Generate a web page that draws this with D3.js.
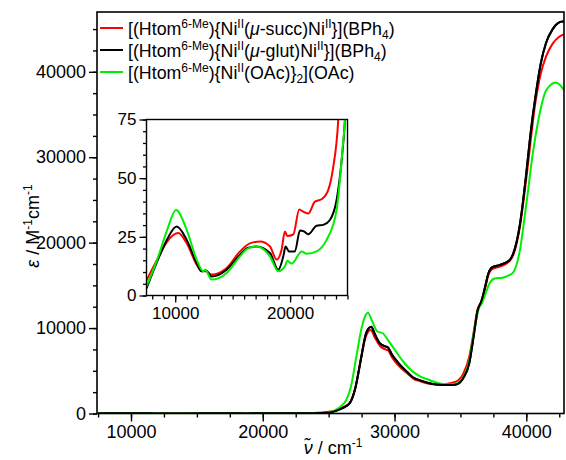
<!DOCTYPE html>
<html>
<head>
<meta charset="utf-8">
<script src="https://cdn.jsdelivr.net/npm/d3@7"></script>
<style>
  html, body { margin: 0; padding: 0; background: #fff; }
  svg { display: block; font-family: "Liberation Sans", Arial, sans-serif; }
</style>
</head>
<body>
<svg id="chart" width="566" height="460"></svg>
<script>
// Molar absorptivity ε (M^-1 cm^-1) versus wavenumber (cm^-1), [wavenumber, ε]
const succData = [
  [7500, 6.4], [8500, 16], [9300, 23], [10270, 26.6], [11000, 22.3], [11870, 13.1],
  [12300, 10.3], [12680, 10.3], [13170, 8.9], [14480, 11.7], [15640, 18.8], [16500, 22.2],
  [17380, 23], [18250, 20.9], [18830, 15.3], [19260, 19.5], [19550, 27.3], [19750, 25.4],
  [20280, 26], [20800, 36.7], [21150, 35.7], [21580, 34.9], [22160, 40], [22740, 41],
  [23320, 44.9], [23760, 54.8], [24190, 74.6], [24500, 110], [25000, 200], [25500, 330],
  [26000, 650], [26600, 1250], [27000, 2900], [27480, 6600], [27800, 8900], [28000, 9600],
  [28200, 9780], [28500, 8900], [28900, 7900], [29300, 7500], [29500, 7400], [29800, 6600],
  [30300, 5600], [31000, 4650], [31390, 4120], [32000, 3750], [32650, 3480], [33200, 3400],
  [33690, 3430], [34200, 3550], [34660, 3720], [35200, 4600], [35670, 6650], [36000, 9500],
  [36300, 12200], [36600, 13100], [36900, 14800], [37100, 16100], [37400, 16900], [38000, 17200],
  [38700, 17800], [39000, 18500], [39500, 21700], [40000, 27500], [40700, 36500], [41100, 39800],
  [41500, 41800], [42000, 43300], [42500, 44100], [42860, 44400]
];

const glutData = [
  [7500, 3], [8500, 15.3], [9300, 24], [10130, 29.4], [11000, 23.7], [11870, 13.8],
  [12300, 10.3], [12680, 10.7], [13170, 8.1], [14480, 11], [15640, 17.4], [16300, 20.3],
  [17090, 20.9], [18250, 18.1], [18970, 11], [19410, 16.7], [19610, 20.9], [19900, 18.8],
  [20420, 18.8], [20860, 27.7], [21210, 27.3], [21580, 26.1], [22310, 29.7], [22890, 30.1],
  [23470, 32.2], [24050, 40.7], [24490, 57.6], [24780, 75], [25000, 100], [25500, 280],
  [26000, 600], [26590, 1190], [27000, 2800], [27480, 6650], [27800, 9200], [28000, 9900],
  [28235, 10160], [28500, 9300], [28900, 8200], [29300, 7850], [29490, 7750], [29800, 6900],
  [30300, 5900], [31000, 4800], [31390, 4240], [32000, 3850], [32650, 3540], [33200, 3400],
  [33690, 3340], [34200, 3330], [34660, 3400], [35200, 4100], [35670, 5880], [36000, 9000],
  [36300, 12000], [36600, 13200], [36900, 15000], [37100, 16300], [37400, 17100], [38000, 17400],
  [38700, 17900], [39000, 18700], [39500, 22000], [39970, 27730], [40300, 32500], [40730, 37490],
  [41100, 41000], [41490, 43350], [42000, 45000], [42400, 45700], [42750, 45880], [42860, 45850]
];

const oacData = [
  [7500, 3.9], [8530, 16.7], [9300, 28], [10070, 36.4], [11000, 28], [11870, 15.3],
  [12440, 10.3], [12600, 11], [13170, 6.8], [14480, 9.6], [15640, 16.7], [16300, 20],
  [17090, 20.9], [18250, 16.7], [18970, 10.3], [19550, 12.4], [19750, 14.8], [20140, 13.6],
  [21010, 18.8], [21450, 17.8], [22310, 18.8], [23180, 23.7], [24050, 36.4], [24630, 66],
  [24780, 75], [25000, 150], [25500, 400], [26000, 950], [26340, 1580], [26700, 3200],
  [27100, 6650], [27500, 10000], [27800, 11500], [27980, 11800], [28300, 10800], [28700, 9600],
  [29110, 9390], [29500, 8600], [30000, 7500], [30700, 6000], [31390, 4900], [32000, 4300],
  [32650, 3920], [33200, 3600], [33690, 3450], [34200, 3400], [34660, 3500], [35200, 4200],
  [35670, 6200], [36000, 9300], [36200, 11000], [36400, 12300], [36600, 12800], [36900, 14000],
  [37200, 15200], [37600, 15800], [38200, 15900], [38700, 16200], [39000, 16500], [39500, 19000],
  [40000, 24500], [40500, 30500], [41000, 35000], [41500, 37800], [42240, 38740], [42860, 37880]
];

const seriesColors = ["#ff0000", "#000000", "#00ee00"];

// Legend labels as runs of text: n = normal, sup, sub, it = italic
const legendLabels = [
  [["n", "[(Htom"], ["sup", "6-Me"], ["n", "){Ni"], ["sup", "II"], ["n", "("], ["it", "μ"], ["n", "-succ)Ni"], ["sup", "II"], ["n", "}](BPh"], ["sub", "4"], ["n", ")"]],
  [["n", "[(Htom"], ["sup", "6-Me"], ["n", "){Ni"], ["sup", "II"], ["n", "("], ["it", "μ"], ["n", "-glut)Ni"], ["sup", "II"], ["n", "}](BPh"], ["sub", "4"], ["n", ")"]],
  [["n", "[(Htom"], ["sup", "6-Me"], ["n", "){Ni"], ["sup", "II"], ["n", "(OAc)}"], ["sub", "2"], ["n", "](OAc)"]]
];

const mainXMajor = [10000, 20000, 30000, 40000];
const mainYMajor = [0, 10000, 20000, 30000, 40000];
const insetXMajor = [10000, 20000];
const insetYMajor = [0, 25, 50, 75];

const series = [succData, glutData, oacData];

const svg = d3.select("#chart");

// ---------- main panel ----------
const M = { left: 97, right: 564, top: 12, bottom: 413.5 };
const x = d3.scaleLinear().domain([7420, 42860]).range([M.left, M.right]);
const y = d3.scaleLinear().domain([0, 47000]).range([M.bottom, M.top]);

svg.append("clipPath").attr("id", "mainClip")
  .append("rect").attr("x", M.left).attr("y", M.top)
  .attr("width", M.right - M.left).attr("height", M.bottom - M.top);

const tickFont = "18px";

function styleAxis(g) {
  g.select(".domain").remove();
  g.selectAll("line").attr("stroke", "#000").attr("stroke-width", 1.4);
  g.selectAll("text").attr("fill", "#000").style("font-size", tickFont)
    .style("font-family", "'Liberation Sans', Arial, sans-serif");
}

// minor ticks
svg.append("g").attr("transform", `translate(0,${M.bottom})`)
  .call(d3.axisBottom(x).tickValues(d3.range(7500, 42860, 2500)).tickSize(4).tickFormat(""))
  .call(styleAxis);
svg.append("g").attr("transform", `translate(${M.left},0)`)
  .call(d3.axisLeft(y).tickValues(d3.range(0, 46000, 2500)).tickSize(4).tickFormat(""))
  .call(styleAxis);
// major ticks
svg.append("g").attr("transform", `translate(0,${M.bottom})`)
  .call(d3.axisBottom(x).tickValues(mainXMajor).tickSize(8).tickPadding(4).tickFormat(d3.format("d")))
  .call(styleAxis);
svg.append("g").attr("transform", `translate(${M.left},0)`)
  .call(d3.axisLeft(y).tickValues(mainYMajor).tickSize(8).tickPadding(3).tickFormat(d3.format("d")))
  .call(styleAxis);

const lineMain = d3.line().x(d => x(d[0])).y(d => y(d[1])).curve(d3.curveMonotoneX);
const mainG = svg.append("g").attr("clip-path", "url(#mainClip)");
series.forEach((s, i) => {
  mainG.append("path").datum(s).attr("d", lineMain)
    .attr("fill", "none").attr("stroke", seriesColors[i]).attr("stroke-width", 2)
    .attr("stroke-linejoin", "round");
});
// redraw black on top where the traces overlap
mainG.append("path").datum(glutData).attr("d", lineMain)
  .attr("fill", "none").attr("stroke", seriesColors[1]).attr("stroke-width", 2);

svg.append("rect").attr("x", M.left).attr("y", M.top)
  .attr("width", M.right - M.left).attr("height", M.bottom - M.top)
  .attr("fill", "none").attr("stroke", "#000").attr("stroke-width", 1.6);

// axis titles
const xTitle = svg.append("text").attr("x", 333).attr("y", 454)
  .attr("text-anchor", "middle").style("font-size", "18px");
xTitle.append("tspan").style("font-style", "italic").text("ν̃");
xTitle.append("tspan").text(" / cm");
xTitle.append("tspan").attr("dy", -7).style("font-size", "12px").text("-1");

const yTitle = svg.append("text")
  .attr("transform", "translate(39,226) rotate(-90)")
  .attr("text-anchor", "middle").style("font-size", "18px");
yTitle.append("tspan").style("font-style", "italic").text("ε");
yTitle.append("tspan").text(" / M");
yTitle.append("tspan").attr("dy", -7).style("font-size", "12px").text("-1");
yTitle.append("tspan").attr("dy", 7).text("cm");
yTitle.append("tspan").attr("dy", -7).style("font-size", "12px").text("-1");

// legend
const legendRowY = [28, 50, 72];
legendLabels.forEach((parts, i) => {
  const ly = legendRowY[i];
  svg.append("line").attr("x1", 100).attr("x2", 123).attr("y1", ly).attr("y2", ly)
    .attr("stroke", seriesColors[i]).attr("stroke-width", 2);
  const t = svg.append("text").attr("x", 128).attr("y", ly + 6.5).style("font-size", "17.8px");
  let shift = 0;
  parts.forEach(([kind, str]) => {
    let target = 0;
    if (kind === "sup") target = -7;
    else if (kind === "sub") target = 4;
    const sp = t.append("tspan").attr("dy", target - shift).text(str);
    shift = target;
    if (kind === "sup" || kind === "sub") sp.style("font-size", "12px");
    if (kind === "it") sp.style("font-style", "italic");
  });
});

// ---------- inset panel ----------
const I = { left: 146.5, right: 347.5, top: 119.5, bottom: 295.5 };
const xi = d3.scaleLinear().domain([7500, 25000]).range([I.left, I.right]);
const yi = d3.scaleLinear().domain([0, 75]).range([I.bottom, I.top]);

svg.append("rect").attr("x", I.left).attr("y", I.top)
  .attr("width", I.right - I.left).attr("height", I.bottom - I.top).attr("fill", "#fff");

svg.append("clipPath").attr("id", "insetClip")
  .append("rect").attr("x", I.left).attr("y", I.top)
  .attr("width", I.right - I.left).attr("height", I.bottom - I.top);

const insetFont = "17px";
function styleInset(g) {
  g.select(".domain").remove();
  g.selectAll("line").attr("stroke", "#000").attr("stroke-width", 1.3);
  g.selectAll("text").attr("fill", "#000").style("font-size", insetFont)
    .style("font-family", "'Liberation Sans', Arial, sans-serif");
}

svg.append("g").attr("transform", `translate(0,${I.bottom})`)
  .call(d3.axisBottom(xi).tickValues(d3.range(8000, 25001, 1000)).tickSize(4).tickFormat(""))
  .call(styleInset);
svg.append("g").attr("transform", `translate(${I.left},0)`)
  .call(d3.axisLeft(yi).tickValues(d3.range(0, 76, 5)).tickSize(3.5).tickFormat(""))
  .call(styleInset);
svg.append("g").attr("transform", `translate(0,${I.bottom})`)
  .call(d3.axisBottom(xi).tickValues(insetXMajor).tickSize(7).tickPadding(4).tickFormat(d3.format("d")))
  .call(styleInset);
svg.append("g").attr("transform", `translate(${I.left},0)`)
  .call(d3.axisLeft(yi).tickValues(insetYMajor).tickSize(7).tickPadding(3).tickFormat(d3.format("d")))
  .call(styleInset);

const lineInset = d3.line().x(d => xi(d[0])).y(d => yi(d[1])).curve(d3.curveMonotoneX);
const insetG = svg.append("g").attr("clip-path", "url(#insetClip)");
series.forEach((s, i) => {
  insetG.append("path").datum(s.filter(d => d[0] <= 25500)).attr("d", lineInset)
    .attr("fill", "none").attr("stroke", seriesColors[i]).attr("stroke-width", 2)
    .attr("stroke-linejoin", "round");
});

svg.append("rect").attr("x", I.left).attr("y", I.top)
  .attr("width", I.right - I.left).attr("height", I.bottom - I.top)
  .attr("fill", "none").attr("stroke", "#000").attr("stroke-width", 1.4);
</script>
</body>
</html>
